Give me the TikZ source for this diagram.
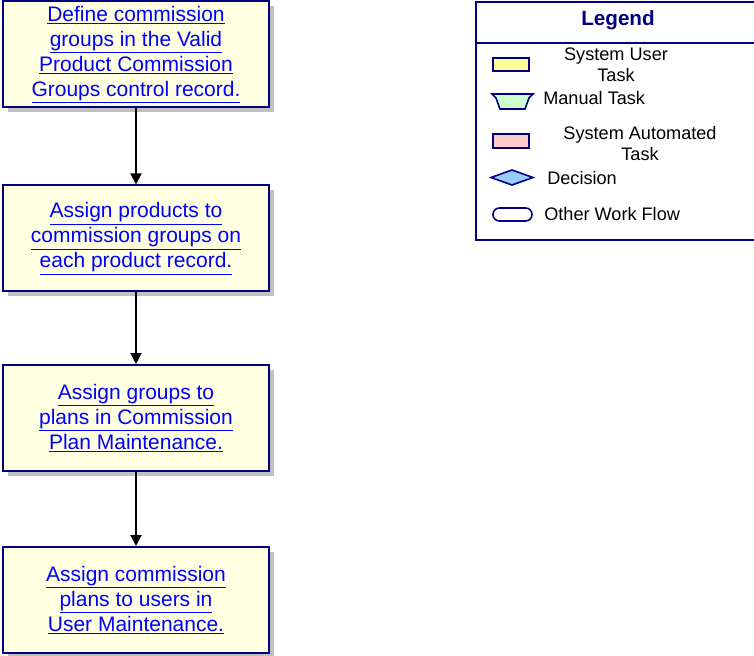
\documentclass[tikz,border=0pt]{standalone}
\usepackage{fontspec}
\setmainfont{Liberation Sans}
\usetikzlibrary{arrows.meta,shadows}

\definecolor{navy}{RGB}{0,0,128}
\definecolor{boxfill}{RGB}{255,255,225}
\definecolor{linkblue}{RGB}{0,0,255}
\definecolor{shadowgray}{RGB}{192,192,192}
\definecolor{usertask}{RGB}{255,255,153}
\definecolor{manualtask}{RGB}{204,255,204}
\definecolor{autotask}{RGB}{255,204,204}
\definecolor{decision}{RGB}{153,204,255}

\tikzset{
  taskbox/.style={draw=navy, line width=1.5pt, fill=boxfill,
    minimum width=199.5pt, minimum height=79.5pt, inner sep=0pt,
    align=center, text=linkblue,
    font=\fontsize{15.75}{18.75}\selectfont,
    drop shadow={shadow xshift=3.75pt, shadow yshift=-3.75pt,
      fill=shadowgray, opacity=1}},
  flow/.style={line width=1.5pt, -{Triangle[width=8.25pt,length=8.25pt]}},
  legendsym/.style={draw=navy, line width=1.2pt},
  legendtext/.style={font=\fontsize{13.6}{15.75}\selectfont, inner sep=0pt},
}

\begin{document}
\begin{tikzpicture}[x=0.75pt, y=-0.75pt]
  \useasboundingbox (0,0) rectangle (754,656);

  % process steps
  \node[taskbox] (define) at (136,54.5)
    {\underline{Define commission}\\\underline{groups in the Valid}\\
     \underline{Product Commission}\\\underline{Groups control record.}};
  \node[taskbox] (products) at (136,238.5)
    {\underline{Assign products to}\\\underline{commission groups on}\\
     \underline{each product record.}};
  \node[taskbox] (groups) at (136,418)
    {\underline{Assign groups to}\\\underline{plans in Commission}\\
     \underline{Plan Maintenance.}};
  \node[taskbox] (users) at (136,600)
    {\underline{Assign commission}\\\underline{plans to users in}\\
     \underline{User Maintenance.}};

  \draw[flow] (define) -- (products);
  \draw[flow] (products) -- (groups);
  \draw[flow] (groups) -- (users);

  % legend frame
  \draw[draw=navy, line width=1.5pt] (476,2) rectangle (758,240);
  \draw[draw=navy, line width=1.2pt] (476,43) -- (758,43);
  \node[font=\fontsize{15.5}{17}\selectfont\bfseries, text=navy] (legendtitle) at (618,20) {Legend};

  % legend symbols
  \draw[legendsym, fill=usertask] (493,58) rectangle (529,71);
  \draw[legendsym, fill=manualtask] (492,94) -- (533,94) -- (529,98) -- (525,109)
    -- (500,109) -- (496,98) -- cycle;
  \draw[legendsym, fill=autotask] (493,134) rectangle (529,148);
  \draw[legendsym, fill=decision] (491,177.5) -- (512,170) -- (533,177.5) -- (512,185) -- cycle;
  \draw[legendsym, fill=white, rounded corners=4.8pt] (493,208) rectangle (532,221);

  % legend labels
  \node[legendtext, align=center] (lguser) at (616,64.5) {System User\\Task};
  \node[legendtext, anchor=west] (lgmanual) at (543,98) {Manual Task};
  \node[legendtext, align=center] (lgauto) at (640,144) {System Automated\\Task};
  \node[legendtext, anchor=west] (lgdecision) at (547,178) {Decision};
  \node[legendtext, anchor=west] (lgother) at (544,214) {Other Work Flow};
\end{tikzpicture}
\end{document}
